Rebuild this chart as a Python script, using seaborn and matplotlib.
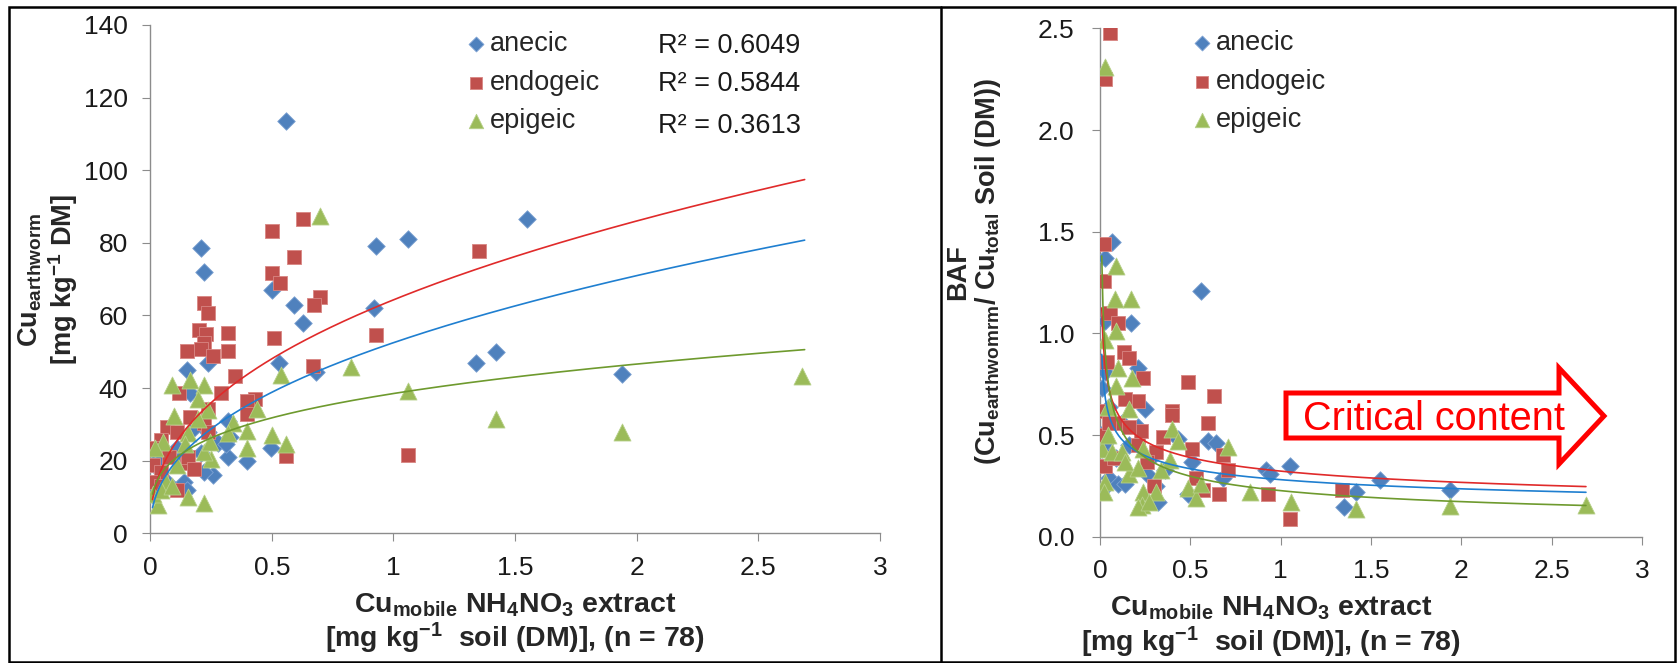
import numpy as np
import pandas as pd
import seaborn as sns
import matplotlib.pyplot as plt
from matplotlib.patches import Polygon, Rectangle
from matplotlib.lines import Line2D
from matplotlib.ticker import FuncFormatter, MultipleLocator

# -----------------------------
# Data
# -----------------------------

# left panel: Cu in earthworm vs mobile Cu
anecic_cu_x = [0.56, 1.55, 1.06, 0.93, 0.21, 0.22, 0.50, 0.59, 0.92, 0.63, 1.42, 1.34, 0.53,
               0.24, 0.15, 1.94, 0.68, 0.165, 0.42, 0.40, 0.32, 0.32, 0.26, 0.22, 0.495, 0.28,
               0.33, 0.24, 0.14, 0.15, 0.01, 0.01, 0.11, 0.18, 0.07, 0.21, 0.04, 0.13, 0.31]
anecic_cu_y = [113.6, 86.5, 81, 79, 78.6, 72, 67, 63, 62, 58, 50, 47, 47,
               47, 45, 44, 44.4, 38.6, 36, 20, 31, 21, 16, 17, 23.5, 25,
               26.4, 28, 14, 12, 10.5, 19, 23.5, 29, 14, 22, 20, 21, 24.5]

endogeic_cu_x = [0.50, 0.63, 0.59, 0.50, 0.535, 0.70, 0.675, 0.22, 0.24, 1.35, 0.32, 0.51,
                 0.93, 0.20, 0.23, 0.22, 0.21, 0.15, 0.32, 0.26, 0.67, 0.35, 0.29, 0.43,
                 0.40, 0.40, 1.06, 0.56, 0.12, 0.24, 0.07, 0.044, 0.026, 0.01, 0.044, 0.01,
                 0.11, 0.15, 0.155, 0.165, 0.22, 0.24, 0.044, 0.11, 0.077, 0.18]
endogeic_cu_y = [83.4, 86.5, 76, 71.7, 69, 65, 63, 63.4, 60.7, 77.8, 55.2, 53.7,
                 54.5, 56, 54.9, 52.5, 50.8, 50.2, 50.2, 48.7, 46, 43.3, 38.6, 36.9,
                 36.5, 32.8, 21.5, 21.2, 38.6, 34.2, 29.3, 25.8, 23.5, 18.8, 17, 14.2,
                 11.9, 19.4, 21, 32, 30.5, 28, 13, 28, 21, 17.7]

epigeic_cu_x = [0.70, 0.825, 1.06, 1.42, 1.94, 2.68, 0.54, 0.09, 0.165, 0.22, 0.195, 0.24,
                0.10, 0.44, 0.34, 0.32, 0.40, 0.40, 0.50, 0.56, 0.155, 0.055, 0.022, 0.11,
                0.066, 0.154, 0.22, 0.033, 0.011, 0.25, 0.22, 0.198, 0.044, 0.088, 0.143, 0.246]
epigeic_cu_y = [87.4, 45.8, 39.2, 31.4, 27.9, 43.3, 43.7, 40.9, 42.3, 40.9, 36.9, 34,
                32.2, 34.3, 30.5, 27.6, 28.1, 23.5, 27, 24.7, 27.6, 25.2, 23.5, 18.8,
                14.2, 10.1, 8.4, 7.8, 10.7, 20.6, 22.3, 31.6, 11.9, 13, 24.7, 25.2]

# right panel: BAF vs mobile Cu
anecic_baf_x = [0.56, 0.065, 0.026, 0.03, 0.17, 0.21, 0.25, 0.03, 0.013, 0.005, 0.013, 0.013,
                0.05, 0.10, 0.14, 0.21, 0.31, 0.32, 0.36, 0.51, 0.43, 0.60, 0.64, 0.68,
                0.92, 0.94, 1.05, 1.35, 1.42, 1.55, 1.94, 0.03, 0.09, 0.30, 0.49, 0.12,
                0.05, 0.16, 0.26]
anecic_baf_y = [1.21, 1.45, 1.37, 1.06, 1.05, 0.83, 0.63, 0.81, 0.73, 0.50, 0.43, 0.23,
                0.29, 0.26, 0.26, 0.54, 0.25, 0.17, 0.33, 0.37, 0.48, 0.47, 0.46, 0.29,
                0.33, 0.31, 0.35, 0.145, 0.22, 0.28, 0.23, 0.46, 0.39, 0.40, 0.21, 0.56,
                0.64, 0.45, 0.31]

endogeic_baf_x = [0.057, 0.026, 0.02, 0.02, 0.057, 0.10, 0.135, 0.16, 0.04, 0.013, 0.24, 0.21,
                  0.49, 0.63, 0.40, 0.40, 0.60, 0.35, 0.51, 0.013, 0.026, 0.68, 0.71, 0.53,
                  0.57, 0.66, 0.93, 1.34, 1.05, 0.31, 0.30, 0.10, 0.14, 0.05, 0.21, 0.23,
                  0.08, 0.16, 0.26]
endogeic_baf_y = [2.475, 2.25, 1.44, 1.26, 1.10, 1.05, 0.91, 0.88, 0.86, 0.62, 0.78, 0.67,
                  0.76, 0.69, 0.62, 0.60, 0.56, 0.49, 0.43, 0.50, 0.35, 0.40, 0.33, 0.29,
                  0.23, 0.21, 0.21, 0.23, 0.09, 0.415, 0.25, 0.56, 0.68, 0.56, 0.45, 0.52,
                  0.39, 0.54, 0.37]

epigeic_baf_x = [0.026, 0.09, 0.086, 0.17, 0.09, 0.026, 0.10, 0.18, 0.09, 0.16, 0.047, 0.40,
                 0.43, 0.71, 0.24, 0.013, 0.065, 0.12, 0.39, 0.026, 0.02, 0.16, 0.21, 0.34,
                 0.24, 0.235, 0.21, 0.31, 0.49, 0.53, 0.56, 0.83, 1.06, 1.42, 1.94, 2.69,
                 0.27, 0.14, 0.047]
epigeic_baf_y = [2.31, 1.33, 1.17, 1.17, 1.01, 0.97, 0.83, 0.78, 0.74, 0.63, 0.64, 0.53,
                 0.47, 0.44, 0.43, 0.43, 0.415, 0.415, 0.38, 0.27, 0.22, 0.31, 0.34, 0.33,
                 0.22, 0.155, 0.145, 0.22, 0.24, 0.19, 0.26, 0.22, 0.17, 0.135, 0.15, 0.155,
                 0.17, 0.37, 0.50]

species = ['anecic', 'endogeic', 'epigeic']
r2_labels = ['R² = 0.6049', 'R² = 0.5844', 'R² = 0.3613']

# power trendlines y = a * x^b (anecic, endogeic, epigeic), as drawn in the chart
cu_trend_a = [52.5, 64.3, 38.5]
cu_trend_b = [0.435, 0.42, 0.276]
baf_trend_a = [0.281, 0.323, 0.227]
baf_trend_b = [-0.252, -0.271, -0.392]
trend_x_range = [0.01, 2.69]

marker_colors = {'anecic': '#4F81BD', 'endogeic': '#C0504D', 'epigeic': '#9BBB59'}
edge_colors = {'anecic': '#7FA3D3', 'endogeic': '#D88683', 'epigeic': '#B7D08A'}
line_colors = {'anecic': '#1F7FD0', 'endogeic': '#E02A2A', 'epigeic': '#6E9A2E'}
markers = {'anecic': 'D', 'endogeic': 's', 'epigeic': '^'}
msizes = {'anecic': 80, 'endogeic': 92, 'epigeic': 150}

left_df = pd.concat([
    pd.DataFrame({'x': anecic_cu_x, 'y': anecic_cu_y, 'species': 'anecic'}),
    pd.DataFrame({'x': endogeic_cu_x, 'y': endogeic_cu_y, 'species': 'endogeic'}),
    pd.DataFrame({'x': epigeic_cu_x, 'y': epigeic_cu_y, 'species': 'epigeic'}),
], ignore_index=True)

right_df = pd.concat([
    pd.DataFrame({'x': anecic_baf_x, 'y': anecic_baf_y, 'species': 'anecic'}),
    pd.DataFrame({'x': endogeic_baf_x, 'y': endogeic_baf_y, 'species': 'endogeic'}),
    pd.DataFrame({'x': epigeic_baf_x, 'y': epigeic_baf_y, 'species': 'epigeic'}),
], ignore_index=True)

# -----------------------------
# Style
# -----------------------------
sns.set_theme(style='white')
plt.rcParams['font.family'] = ['Liberation Sans', 'DejaVu Sans']
plt.rcParams['mathtext.default'] = 'regular'

fig = plt.figure(figsize=(16.77, 6.63), dpi=100)
ax1 = fig.add_axes([0.0895, 0.1956, 0.4353, 0.7667])
ax2 = fig.add_axes([0.6559, 0.1903, 0.3232, 0.7670])


def draw_panel(ax, df, trend_a, trend_b):
    for sp in species:
        d = df[df['species'] == sp]
        sns.scatterplot(data=d, x='x', y='y', ax=ax, marker=markers[sp], s=msizes[sp],
                        color=marker_colors[sp], edgecolor=edge_colors[sp], linewidth=0.6,
                        label=sp, zorder=3)
    xx = np.linspace(trend_x_range[0], trend_x_range[1], 400)
    for sp, a, b in zip(species, trend_a, trend_b):
        ax.plot(xx, a * xx ** b, color=line_colors[sp], lw=1.2, zorder=4)

    ax.set_xlim(0, 3)
    ax.xaxis.set_major_locator(MultipleLocator(0.5))
    ax.xaxis.set_major_formatter(FuncFormatter(lambda v, p: '{:g}'.format(v)))
    ax.set_xlabel('')
    ax.set_ylabel('')
    for s in ['top', 'right']:
        ax.spines[s].set_visible(False)
    for s in ['left', 'bottom']:
        ax.spines[s].set_color('#8C8C8C')
        ax.spines[s].set_linewidth(1.0)
    ax.tick_params(axis='both', direction='out', length=6, width=0.8, color='#8C8C8C',
                   labelsize=19, labelcolor='#1A1A1A', bottom=True, left=True)
    ax.tick_params(axis='x', pad=10)


draw_panel(ax1, left_df, cu_trend_a, cu_trend_b)
ax1.set_ylim(0, 140)
ax1.yaxis.set_major_locator(MultipleLocator(20))
ax1.tick_params(axis='y', pad=10)

draw_panel(ax2, right_df, baf_trend_a, baf_trend_b)
ax2.set_ylim(0, 2.5)
ax2.yaxis.set_major_locator(MultipleLocator(0.5))
ax2.yaxis.set_major_formatter(FuncFormatter(lambda v, p: '{:.1f}'.format(v)))
ax2.tick_params(axis='y', pad=12.5)

# legends
for ax, anchor in [(ax1, (0.431, 0.886)), (ax2, (0.168, 0.895))]:
    ax.legend(loc='center left', bbox_to_anchor=anchor, frameon=False, fontsize=19.5,
              handlelength=0.8, handletextpad=0.13, labelspacing=0.46, borderpad=0,
              borderaxespad=0, markerscale=0.85)

for r2, yy in zip(r2_labels, [0.958, 0.883, 0.802]):
    ax1.text(0.696, yy, r2, transform=ax1.transAxes, fontsize=19.5, va='center',
             ha='left', color='#1A1A1A')

# axis labels
fig.text(0.0289, 0.578, 'Cu$_{earthworm}$\n[mg kg$^{-1}$ DM]', rotation=90, ha='center',
         va='center', fontsize=19.5, fontweight='bold', linespacing=1.08,
         multialignment='center')
fig.text(0.5811, 0.590, 'BAF\n(Cu$_{earthwomrm}$/ Cu$_{total}$ Soil (DM))', rotation=90,
         ha='center', va='center', fontsize=19.5, fontweight='bold', linespacing=1.08,
         multialignment='center')
xlab = 'Cu$_{mobile}$ NH$_4$NO$_3$ extract\n[mg kg$^{-1}$  soil (DM)], (n = 78)'
fig.text(515 / 1677, 1 - 624 / 663, xlab, ha='center', va='center', fontsize=20.5,
         fontweight='bold', linespacing=1.05, multialignment='center')
fig.text(1271 / 1677, 1 - 627 / 663, xlab, ha='center', va='center', fontsize=20.5,
         fontweight='bold', linespacing=1.1, multialignment='center')

# "Critical content" arrow
W, H = 1677.0, 663.0
arrow_px = [(1286, 393), (1559, 393), (1559, 368), (1604, 416), (1559, 464),
            (1559, 438), (1286, 438)]
arrow = Polygon([(px / W, 1 - py / H) for px, py in arrow_px], closed=True,
                transform=fig.transFigure, facecolor='white', edgecolor='#FF0000',
                linewidth=3.6, joinstyle='miter', zorder=10)
fig.add_artist(arrow)
fig.text(1434 / W, 1 - 430 / H, 'Critical content', color='#FF0000', fontsize=28.5,
         ha='center', va='baseline', zorder=11)

# panel frames
fig.add_artist(Rectangle((9 / W, 1 / H), (1675 - 9) / W, (656 - 1) / H,
                         transform=fig.transFigure, fill=False, edgecolor='black',
                         linewidth=1.8, zorder=12))
fig.add_artist(Line2D([941 / W, 941 / W], [1 / H, 656 / H], transform=fig.transFigure,
                      color='black', linewidth=1.8, zorder=12))

plt.savefig('out.png', dpi=100)
